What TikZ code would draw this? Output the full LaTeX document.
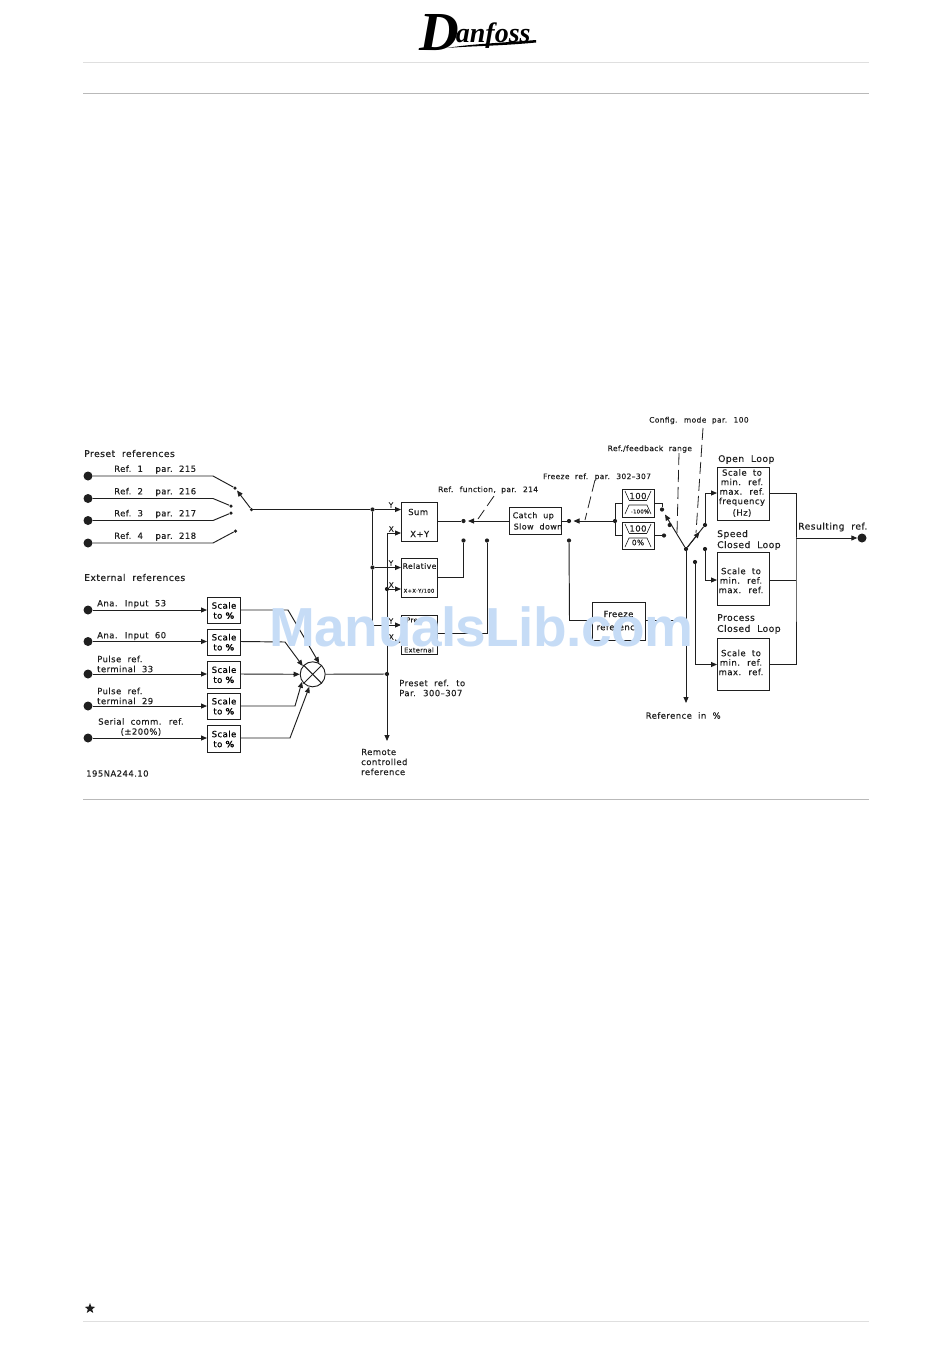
\documentclass[tikz,border=0pt]{standalone}
\usepackage{fontspec}
\setmainfont[LetterSpace=5,WordSpace=2,FakeBold=0.3]{DejaVu Sans}
\newfontfamily\wm[LetterSpace=-1]{Liberation Sans}
\newfontfamily\logo{Liberation Serif}
\usetikzlibrary{arrows.meta,shapes.geometric}
\definecolor{ink}{gray}{0.12}
\definecolor{wmblue}{HTML}{C6DCF6}
\tikzset{
  wire/.style={draw=ink,line width=0.95pt},
  flow/.style={wire,-{Triangle[length=6pt,width=5pt]}},
  dashline/.style={draw=ink,line width=0.8pt,dash pattern=on 12pt off 5pt},
  blk/.style={draw=ink,line width=0.95pt,fill=white,inner sep=0pt,font=\fontsize{8.5}{10}\selectfont,align=center,anchor=north west},
  lab/.style={font=\fontsize{8.5}{10}\selectfont,text=ink,inner sep=0pt,align=left,anchor=west},
  midlab/.style={font=\fontsize{8.5}{9.5}\selectfont,text=ink,inner sep=0pt,align=center},
  hd/.style={font=\fontsize{9.2}{11}\selectfont,text=ink,inner sep=0pt,align=left,anchor=west},
  smalltxt/.style={font=\fontsize{7.5}{8}\selectfont,text=ink,inner sep=0pt,anchor=west},
  termdot/.style={circle,fill=ink,minimum size=9pt,inner sep=0pt},
  pindot/.style={circle,fill=ink,minimum size=4.2pt,inner sep=0pt},
  rulea/.style={draw=gray!55,line width=0.7pt},
  ruleb/.style={draw=gray!25,line width=0.7pt}
}
\newcommand{\scalebx}[3]{\node[blk,minimum width=33pt,minimum height=#3,text width=33pt] (#1) at (207,#2) {Scale\\to \textbf{\%}};}
\begin{document}
\begin{tikzpicture}[x=1pt,y=-1pt]
\useasboundingbox (0,0) rectangle (950,1360);
% page furniture
\coordinate (r1a) at (83,62); \coordinate (r1b) at (869,62);
\coordinate (r2a) at (83,93.5); \coordinate (r2b) at (869,93.5);
\coordinate (r3a) at (83,799); \coordinate (r3b) at (869,799);
\coordinate (r4a) at (83,1321); \coordinate (r4b) at (869,1321);
\draw[ruleb] (r1a)--(r1b); \draw[rulea] (r2a)--(r2b); \draw[rulea] (r3a)--(r3b); \draw[ruleb] (r4a)--(r4b);
\node[star,star points=5,star point ratio=2.4,fill=ink,minimum size=11pt,inner sep=0pt] (st) at (90,1308.5) {};
% logo
\node[inner sep=0pt,anchor=base west,font=\logo\itshape\bfseries] (lg) at (419,42) {\raisebox{-8pt}{\fontsize{55}{55}\selectfont D}\kern-3pt\fontsize{28}{28}\selectfont anfoss};
\coordinate (sw1) at (447,48); \coordinate (sw2) at (536,40);
\fill[black] (sw1) .. controls (470,44) and (500,43) .. (sw2) -- (536,42.5) .. controls (500,46) and (470,46) .. (sw1);
% headings
\node[hd] (hp) at (84,453.5) {Preset references};
\node[hd] (he) at (84,577.5) {External references};
% preset inputs
\foreach \n/\y/\t in {1/476/215,2/498.5/216,3/520.5/217,4/543/218}{
  \node[termdot] (pi\n) at (88,\y) {};
  \node[lab] (pl\n) at (114,\y-6.5) {Ref.\ \n\ \ par.\ \t};
  \coordinate (pk\n) at (213,\y);
}
\node[pindot,minimum size=3.5pt] (pc1) at (235,488) {};
\node[pindot,minimum size=3.5pt] (pc2) at (231,506) {};
\node[pindot,minimum size=3.5pt] (pc3) at (231,513) {};
\node[pindot,minimum size=3.5pt] (pc4) at (235.5,531) {};
\draw[wire] (pi1)--(pk1)--(pc1); \draw[wire] (pi2)--(pk2)--(pc2);
\draw[wire] (pi3)--(pk3)--(pc3); \draw[wire] (pi4)--(pk4)--(pc4);
\node[pindot,minimum size=3.5pt] (sw) at (251.5,509.5) {};
\coordinate (swt) at (237,490.5);
\draw[flow] (sw)--(swt);
% external inputs
\foreach \n/\y/\h in {1/597/26pt,2/628.5/26.5pt,3/661/26.5pt,4/692.5/26.5pt,5/725/27pt}{
  \scalebx{s\n}{\y}{\h}
}
\foreach \n/\y in {1/610,2/641.5,3/674,4/706,5/738}{
  \node[termdot] (ei\n) at (88,\y) {};
  \draw[flow] (ei\n)--(s\n.west|-ei\n);
}
\node[lab] (el1) at (97,604) {Ana. Input 53};
\node[lab] (el2) at (97,636) {Ana. Input 60};
\node[lab] (el3) at (97,664) {Pulse ref.\\terminal 33};
\node[lab] (el4) at (97,696) {Pulse ref.\\terminal 29};
\node[lab,align=center] (el5) at (98,727) {Serial comm. ref.\\(±200\%)};
\node[lab] (code) at (86,773.5) {195NA244.10};
% summing circle
\node[circle,draw=ink,line width=0.95pt,minimum size=25pt,inner sep=0pt,fill=white] (mix) at (312.7,674.3) {};
\draw[wire] (mix.north west)--(mix.south east); \draw[wire] (mix.north east)--(mix.south west);
\coordinate (k1) at (288,610); \coordinate (k2) at (285,642); \coordinate (k4) at (295,706); \coordinate (k5) at (290,738);
\draw[flow] (s1.east|-ei1)--(k1)--(mix.60);
\draw[flow] (s2.east|-ei2)--(k2)--(mix.140);
\draw[flow] (s3.east|-ei3)--(mix.west);
\draw[flow] (s4.east|-ei4)--(k4)--(mix.215);
\draw[flow] (s5.east|-ei5)--(k5)--(mix.255);
% centre blocks
\node[blk,minimum width=36pt,minimum height=39pt] (sum) at (401,502) {};
\node[lab] (sumA) at (408,512) {Sum};
\node[lab] (sumB) at (410,534) {X+Y};
\node[blk,minimum width=36pt,minimum height=39pt] (rel) at (401,558) {};
\node[font=\fontsize{7.7}{9}\selectfont,inner sep=0pt,text=ink] (relA) at (419.5,566) {Relative};
\node[font=\fontsize{5.3}{6}\selectfont,inner sep=0pt,text=ink] (relB) at (419,591) {X+X·Y/100};
\node[blk,minimum width=36pt,minimum height=39pt] (ext) at (401,615) {};
\node[font=\fontsize{6.8}{8}\selectfont,inner sep=0pt,text=ink] (extA) at (412,620) {Pre};
\node[font=\fontsize{6.6}{8}\selectfont,inner sep=0pt,text=ink] (extB) at (419,650) {External};
% main buses
\node[pindot] (j1) at (372.5,509.5) {};
\node[pindot] (j2) at (372.5,567.5) {};
\coordinate (j3) at (372.5,625);
\node[pindot] (j4) at (387,589) {};
\node[pindot] (j5) at (387,674) {};
\coordinate (xt) at (387,533);
\coordinate (xb) at (387,642);
\coordinate (rem) at (387,741);
\draw[wire] (sw)--(j1);
\draw[wire] (j1)--(j2)--(j3);
\draw[flow] (j1)--(sum.west|-j1);
\draw[flow] (j2)--(rel.west|-j2);
\draw[flow] (j3)--(ext.west|-j3);
\draw[flow] (xt)--(sum.west|-xt);
\draw[flow] (j4)--(rel.west|-j4);
\draw[flow] (xb)--(ext.west|-xb);
\draw[flow] (xt)--(rem);
\draw[wire] (mix)--(j5);
\node[smalltxt] (ly1) at (388.5,505) {Y};
\node[smalltxt] (lx1) at (388.5,529) {X};
\node[smalltxt] (ly2) at (388.5,563) {Y};
\node[smalltxt] (lx2) at (388.5,585) {X};
\node[smalltxt] (ly3) at (388.5,621) {Y};
\node[smalltxt] (lx3) at (388.5,637) {X};
\node[lab] (pr) at (399,688) {Preset ref. to\\Par. 300–307};
\node[lab] (rm) at (361,762) {Remote\\controlled\\reference};
% catch up
\node[blk,minimum width=52pt,minimum height=27pt] (cat) at (509,507) {};
\node[font=\fontsize{8}{9}\selectfont,inner sep=0pt,text=ink,anchor=west] (catA) at (512.5,516) {Catch up};
\node[font=\fontsize{8}{9}\selectfont,inner sep=0pt,text=ink,anchor=west] (catB) at (513.5,526.5) {Slow down};
\node[pindot] (d1) at (463.5,521) {};
\node[pindot] (d2) at (463.5,540.5) {};
\node[pindot] (d3) at (487,540.5) {};
\draw[wire] (sum.east|-d1)--(d1);
\draw[flow] (cat.west|-d1)--(468,521);
\coordinate (rl) at (463.5,577); \coordinate (eo) at (487,633);
\draw[wire] (rel.east|-rl)--(rl)--(d2);
\draw[wire] (ext.east|-eo)--(eo)--(d3);
\node[pindot] (d4) at (569,521) {};
\node[pindot] (d5) at (569,540.5) {};
\node[pindot] (j6) at (615,521) {};
\draw[wire] (cat.east|-d4)--(d4);
\draw[flow] (j6)--(573.5,521);
% freeze
\node[blk,minimum width=53pt,minimum height=38pt] (frz) at (592,602) {};
\node[midlab] (frzA) at (618.5,614) {Freeze};
\node[midlab] (frzB) at (618.5,627) {reference};
\coordinate (fk) at (569.5,620.5);
\draw[wire] (d5)--(fk)--(frz.west|-fk);
% range boxes
\node[blk,minimum width=32pt,minimum height=28pt] (rg1) at (622,489) {};
\node[blk,minimum width=32pt,minimum height=27pt] (rg2) at (622,522) {};
\node[font=\fontsize{8.5}{9}\selectfont,inner sep=0pt,text=ink] (t1) at (638,496) {100};
\node[font=\fontsize{5.3}{6}\selectfont,inner sep=0pt,text=ink] (t2) at (640,511.5) {-100\%};
\node[font=\fontsize{8.5}{9}\selectfont,inner sep=0pt,text=ink] (t3) at (638,528.5) {100};
\node[font=\fontsize{7.5}{8}\selectfont,inner sep=0pt,text=ink] (t4) at (638,542.5) {0\%};
\foreach \b in {489,522}{
  \draw[wire,line width=0.6pt] (625,\b+2)--(629,\b+11);
  \draw[wire,line width=0.6pt] (651,\b+2)--(647,\b+11);
  \draw[wire,line width=0.6pt] (625,\b+25)--(629,\b+16)--(647,\b+16)--(651,\b+25);
  \draw[wire,line width=0.6pt] (629,\b+11)--(647,\b+11);
}
\coordinate (ra) at (615,503); \coordinate (rb) at (615,535.5);
\draw[wire] (ra)--(rb);
\draw[wire] (ra)--(rg1.west|-ra);
\draw[wire] (rb)--(rg2.west|-rb);
\node[pindot] (a1) at (662,509.5) {};
\node[pindot] (a2) at (664,535.5) {};
\coordinate (ak) at (662,503);
\draw[wire] (rg1.east|-ak)--(ak)--(a1);
\draw[wire] (rg2.east|-a2)--(a2);
\node[pindot] (v) at (686,549) {};
\node[pindot] (a3) at (669.7,525) {};
\coordinate (a4) at (665,514.5);
\draw[flow] (v)--(a4);
\node[pindot] (b1) at (705,525) {};
\draw[wire] (v)--(b1);
\coordinate (bt) at (699.5,532);
\draw[-{Triangle[length=6pt,width=5pt]},wire] (v)--(bt);
\node[pindot] (b2) at (705,549) {};
\node[pindot] (b3) at (695,562) {};
% output blocks
\node[blk,minimum width=52pt,minimum height=53pt] (op) at (717,467) {};
\node[midlab] (opT) at (742,493) {Scale to\\min. ref.\\max. ref.\\frequency\\[2pt](Hz)};
\node[blk,minimum width=52pt,minimum height=53pt] (sp) at (717,552) {};
\node[midlab] (spT) at (741,580.5) {Scale to\\min. ref.\\max. ref.};
\node[blk,minimum width=52pt,minimum height=52pt] (pc) at (717,638) {};
\node[midlab] (pcT) at (741,662.5) {Scale to\\min. ref.\\max. ref.};
\node[hd] (opL) at (718,459.5) {Open Loop};
\node[hd] (spL) at (717,540) {Speed\\Closed Loop};
\node[hd] (pcL) at (717,624) {Process\\Closed Loop};
\coordinate (c1) at (705,493); \coordinate (c2) at (705,580); \coordinate (c3) at (695,664.5);
\draw[flow] (b1)--(c1)--(c1-|op.west);
\draw[flow] (b2)--(c2)--(c2-|sp.west);
\draw[flow] (b3)--(c3)--(c3-|pc.west);
\coordinate (o1) at (796,493); \coordinate (o2) at (796,580); \coordinate (o3) at (796,664.5); \coordinate (o4) at (796,538);
\draw[wire] (op.east|-o1)--(o1)--(o2)--(o3)--(pc.east|-o3);
\draw[wire] (sp.east|-o2)--(o2);
\node[termdot] (res) at (862,538) {};
\draw[flow] (o4)--(res);
\node[hd] (resL) at (798,527) {Resulting ref.};
\coordinate (refi) at (686,703);
\draw[flow] (v)--(refi);
\coordinate (fo) at (686,620.5);
\draw[wire] (frz.east|-fo)--(fo);
\node[lab] (refL) at (645.5,715.5) {Reference in \%};
% dashed leaders
\coordinate (q1a) at (679,453); \coordinate (q1b) at (677,533);
\coordinate (q2a) at (703,428); \coordinate (q2b) at (696,533);
\coordinate (q3a) at (595,480); \coordinate (q3b) at (585,520);
\coordinate (q4a) at (494,496); \coordinate (q4b) at (478,519);
\draw[dashline] (q1a)--(q1b); \draw[dashline] (q2a)--(q2b); \draw[dashline] (q3a)--(q3b); \draw[dashline] (q4a)--(q4b);
\node[smalltxt] (lc) at (649,420.5) {Config. mode par. 100};
\node[smalltxt] (lf) at (607.5,449) {Ref./feedback range};
\node[smalltxt] (lz) at (543,477) {Freeze ref. par. 302–307};
\node[smalltxt] (lr) at (438,490) {Ref. function, par. 214};
% watermark
\node[inner sep=0pt,text=wmblue,font=\wm\bfseries\fontsize{55}{55}\selectfont] (wm) at (481.5,627) {ManualsLib.com};
\end{tikzpicture}
\end{document}
